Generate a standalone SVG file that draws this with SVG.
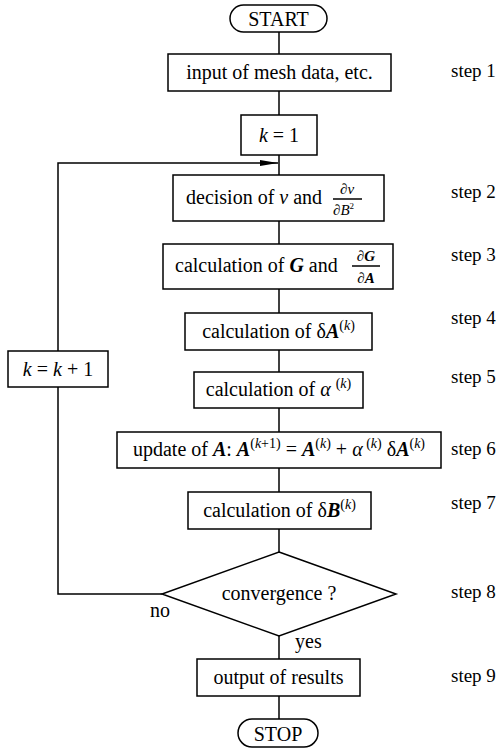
<svg xmlns="http://www.w3.org/2000/svg" width="499" height="751" viewBox="0 0 499 751" font-family="'Liberation Serif', 'DejaVu Serif', serif">
<style>
  .box { fill: #fff; stroke: #000; stroke-width: 1.5; }
  .ln { fill: none; stroke: #000; stroke-width: 1.5; }
  text { font-family: 'Liberation Serif', 'DejaVu Serif', serif; font-size: 20px; fill: #000; }
  .c { text-anchor: middle; }
  .fr { font-size: 15px; }
  .step { font-size: 19px; }
  .i { font-style: italic; }
  .bi { font-style: italic; font-weight: bold; }
  .sup { font-size: 14px; }
</style>
<defs>
  <marker id="arr" markerWidth="18" markerHeight="8" refX="18" refY="4" orient="auto" markerUnits="userSpaceOnUse">
    <path d="M0,1 L18,4 L0,7 Z" fill="#000"/>
  </marker>
</defs>

<g id="connectors">
  <line class="ln" x1="279" y1="32" x2="279" y2="54"/>
  <line class="ln" x1="279" y1="91" x2="279" y2="115"/>
  <line class="ln" x1="279" y1="155" x2="279" y2="175"/>
  <line class="ln" x1="279" y1="221" x2="279" y2="244"/>
  <line class="ln" x1="279" y1="289" x2="279" y2="313"/>
  <line class="ln" x1="279" y1="350" x2="279" y2="372"/>
  <line class="ln" x1="279" y1="408" x2="279" y2="432"/>
  <line class="ln" x1="279" y1="468" x2="279" y2="492"/>
  <line class="ln" x1="279" y1="529" x2="279" y2="552"/>
  <line class="ln" x1="279" y1="636" x2="279" y2="659"/>
  <line class="ln" x1="279" y1="696" x2="279" y2="719"/>
  <polyline class="ln" points="162,594 58,594 58,387"/>
  <polyline class="ln" points="58,351 58,163 278,163" marker-end="url(#arr)"/>
  <text x="150" y="617">no</text>
  <text x="295" y="648">yes</text>
</g>

<g id="start">
  <rect class="box" x="230" y="5" width="97" height="27" rx="13.5"/>
  <text class="c" x="278.5" y="26">START</text>
</g>

<g id="step1">
  <rect class="box" x="168" y="54" width="223" height="37"/>
  <text class="c" x="279.5" y="79">input of mesh data, etc.</text>
</g>

<g id="k1">
  <rect class="box" x="241" y="115" width="76" height="40"/>
  <text class="c" x="279" y="142"><tspan class="i">k</tspan> = 1</text>
</g>

<g id="step2">
  <rect class="box" x="173" y="175" width="211" height="46"/>
  <text x="186" y="204">decision of <tspan class="i">ν</tspan> and</text>
  <text class="fr c" x="347" y="194">∂<tspan class="i">ν</tspan></text>
  <line class="ln" x1="333" y1="199" x2="362" y2="199" stroke-width="1"/>
  <text class="fr" x="333" y="215">∂<tspan class="i">B</tspan><tspan font-size="9" dy="-6">2</tspan></text>
</g>

<g id="step3">
  <rect class="box" x="163" y="244" width="230" height="45"/>
  <text x="175" y="272">calculation of <tspan class="bi">G</tspan> and</text>
  <text class="fr c" x="366" y="261">∂<tspan class="bi">G</tspan></text>
  <line class="ln" x1="352" y1="266" x2="380" y2="266" stroke-width="1"/>
  <text class="fr c" x="366" y="283">∂<tspan class="bi">A</tspan></text>
</g>

<g id="step4">
  <rect class="box" x="185" y="313" width="187" height="37"/>
  <text class="c" x="278.5" y="338">calculation of δ<tspan class="bi">A</tspan><tspan class="sup" dy="-8">(<tspan class="i">k</tspan>)</tspan></text>
</g>

<g id="step5">
  <rect class="box" x="194" y="372" width="169" height="36"/>
  <text class="c" x="278.5" y="396">calculation of <tspan class="i">α</tspan> <tspan class="sup" dy="-8">(<tspan class="i">k</tspan>)</tspan></text>
</g>

<g id="step6">
  <rect class="box" x="117" y="432" width="324" height="36"/>
  <text class="c" x="279" y="456">update of <tspan class="bi">A</tspan>: <tspan class="bi">A</tspan><tspan class="sup" dy="-8">(<tspan class="i">k</tspan>+1)</tspan><tspan dy="8"> = </tspan><tspan class="bi">A</tspan><tspan class="sup" dy="-8">(<tspan class="i">k</tspan>)</tspan><tspan dy="8"> + </tspan><tspan class="i">α</tspan><tspan class="sup" dy="-8"> (<tspan class="i">k</tspan>)</tspan><tspan dy="8"> δ</tspan><tspan class="bi">A</tspan><tspan class="sup" dy="-8">(<tspan class="i">k</tspan>)</tspan></text>
</g>

<g id="step7">
  <rect class="box" x="188" y="492" width="183" height="37"/>
  <text class="c" x="279.5" y="517">calculation of δ<tspan class="bi">B</tspan><tspan class="sup" dy="-8">(<tspan class="i">k</tspan>)</tspan></text>
</g>

<g id="step8">
  <polygon class="box" points="279,552 396,594 279,636 162,594"/>
  <text class="c" x="279" y="600">convergence ?</text>
</g>

<g id="kk1">
  <rect class="box" x="8" y="351" width="100" height="36"/>
  <text class="c" x="58" y="376"><tspan class="i">k</tspan> = <tspan class="i">k</tspan> + 1</text>
</g>

<g id="step9">
  <rect class="box" x="197" y="659" width="163" height="37"/>
  <text class="c" x="278.5" y="684">output of results</text>
</g>

<g id="stop">
  <rect class="box" x="238" y="719" width="80" height="28" rx="14"/>
  <text class="c" x="278" y="741">STOP</text>
</g>

<g id="steps">
  <text class="step" x="451" y="77">step 1</text>
  <text class="step" x="451" y="198">step 2</text>
  <text class="step" x="451" y="261">step 3</text>
  <text class="step" x="451" y="324">step 4</text>
  <text class="step" x="451" y="383">step 5</text>
  <text class="step" x="451" y="455">step 6</text>
  <text class="step" x="451" y="509">step 7</text>
  <text class="step" x="451" y="598">step 8</text>
  <text class="step" x="451" y="682">step 9</text>
</g>
</svg>
